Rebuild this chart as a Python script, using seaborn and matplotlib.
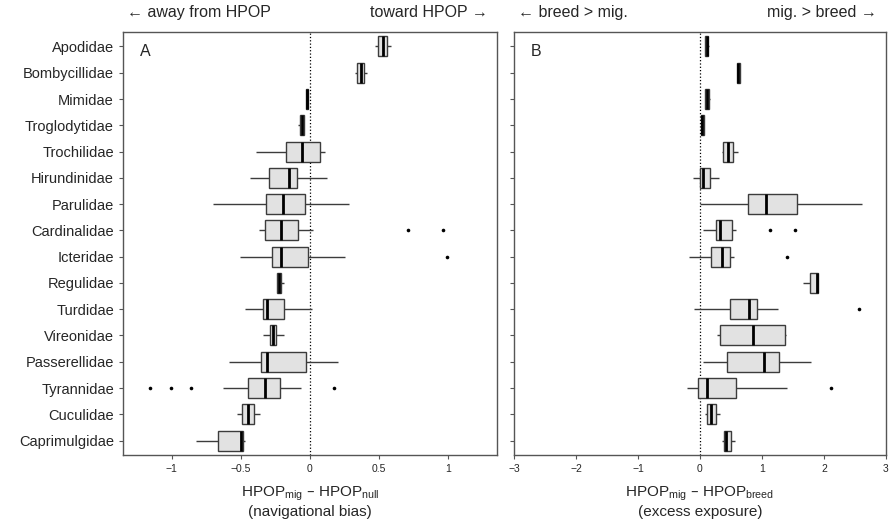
import numpy as np
import pandas as pd
import matplotlib
matplotlib.use("Agg")
import matplotlib.pyplot as plt
import seaborn as sns

# families, top to bottom
families = ["Apodidae", "Bombycillidae", "Mimidae", "Troglodytidae", "Trochilidae",
            "Hirundinidae", "Parulidae", "Cardinalidae", "Icteridae", "Regulidae",
            "Turdidae", "Vireonidae", "Passerellidae", "Tyrannidae", "Cuculidae",
            "Caprimulgidae"]

# panel A: navigational bias (whisker low, q1, median, q3, whisker high)
a_lo = [0.470, 0.324, -0.032, -0.085, -0.388, -0.437, -0.700, -0.368, -0.507, -0.237,
        -0.473, -0.339, -0.583, -0.627, -0.529, -0.827]
a_q1 = [0.495, 0.339, -0.032, -0.071, -0.173, -0.295, -0.317, -0.327, -0.273, -0.237,
        -0.339, -0.290, -0.356, -0.451, -0.488, -0.668]
a_med = [0.527, 0.368, -0.024, -0.058, -0.061, -0.151, -0.195, -0.207, -0.210, -0.224,
         -0.312, -0.271, -0.312, -0.322, -0.446, -0.500]
a_q3 = [0.559, 0.390, -0.017, -0.046, 0.071, -0.095, -0.034, -0.085, -0.012, -0.210,
        -0.188, -0.244, -0.027, -0.217, -0.402, -0.485]
a_hi = [0.588, 0.412, -0.017, -0.041, 0.112, 0.120, 0.283, 0.024, 0.254, -0.188,
        0.017, -0.188, 0.205, -0.068, -0.361, -0.473]
a_out_fam = ["Cardinalidae", "Cardinalidae", "Icteridae", "Tyrannidae", "Tyrannidae",
             "Tyrannidae", "Tyrannidae"]
a_out_val = [0.710, 0.961, 0.993, -1.154, -1.007, -0.861, 0.171]

# panel B: excess exposure
b_lo = [0.075, 0.590, 0.080, 0.020, 0.355, -0.113, 0.000, 0.054, -0.183, 1.663,
        -0.102, 0.280, 0.048, -0.205, 0.075, 0.355]
b_q1 = [0.086, 0.597, 0.086, 0.022, 0.371, -0.005, 0.770, 0.253, 0.172, 1.776,
        0.479, 0.323, 0.436, -0.032, 0.118, 0.388]
b_med = [0.108, 0.620, 0.110, 0.040, 0.457, 0.048, 1.060, 0.328, 0.350, 1.884,
         0.786, 0.861, 1.033, 0.108, 0.178, 0.420]
b_q3 = [0.135, 0.640, 0.145, 0.059, 0.533, 0.161, 1.566, 0.522, 0.490, 1.900,
        0.926, 1.367, 1.276, 0.587, 0.258, 0.501]
b_hi = [0.140, 0.650, 0.155, 0.060, 0.608, 0.307, 2.605, 0.581, 0.554, 1.900,
        1.259, 1.394, 1.792, 1.410, 0.323, 0.571]
b_out_fam = ["Cardinalidae", "Cardinalidae", "Icteridae", "Turdidae", "Tyrannidae"]
b_out_val = [1.125, 1.534, 1.399, 2.567, 2.110]


def long_table(lo, q1, med, q3, hi):
    rows = []
    for i, fam in enumerate(families):
        for v in (lo[i], q1[i], med[i], q3[i], hi[i]):
            rows.append((fam, v))
    return pd.DataFrame(rows, columns=["family", "value"])


dfa = long_table(a_lo, a_q1, a_med, a_q3, a_hi)
dfb = long_table(b_lo, b_q1, b_med, b_q3, b_hi)
outa = pd.DataFrame({"family": a_out_fam, "value": a_out_val})
outb = pd.DataFrame({"family": b_out_fam, "value": b_out_val})

sns.set_style("ticks")
plt.rcParams["font.family"] = ["Liberation Sans", "DejaVu Sans"]
plt.rcParams["mathtext.default"] = "regular"

fig = plt.figure(figsize=(8.9, 5.23), dpi=100)
axA = fig.add_axes([0.1382, 0.130, 0.4202, 0.8088])
axB = fig.add_axes([0.5775, 0.130, 0.4180, 0.8088])

box_kw = dict(x="value", y="family", order=families, orient="h", whis=(0, 100),
              width=0.76, color="#e2e2e2", linecolor="#3c3c3c", linewidth=1,
              showcaps=False, fliersize=0,
              medianprops=dict(color="black", linewidth=2))

for ax, df, out, lim, ticks, ticklabs, xlab, letter, left_txt, right_txt in [
    (axA, dfa, outa, (-1.352, 1.352), [-1, -0.5, 0, 0.5, 1],
     ["\u22121", "\u22120.5", "0", "0.5", "1"],
     "HPOP$_{mig}$ \u2013 HPOP$_{null}$\n(navigational bias)", "A",
     "\u2190 away from HPOP", "toward HPOP \u2192"),
    (axB, dfb, outb, (-3, 3), [-3, -2, -1, 0, 1, 2, 3],
     ["\u22123", "\u22122", "\u22121", "0", "1", "2", "3"],
     "HPOP$_{mig}$ \u2013 HPOP$_{breed}$\n(excess exposure)", "B",
     "\u2190 breed > mig.", "mig. > breed \u2192"),
]:
    ax.axvline(0, color="black", linestyle=":", linewidth=0.9, zorder=0)
    sns.boxplot(data=df, ax=ax, **box_kw)
    sns.stripplot(data=out, x="value", y="family", order=families, orient="h",
                  jitter=False, size=2.6, color="black", ax=ax)
    ax.set_xlim(*lim)
    ax.set_ylim(15.55, -0.55)
    ax.set_xticks(ticks)
    ax.set_xticklabels(ticklabs, fontsize=7.5)
    ax.set_xlabel(xlab, fontsize=11, labelpad=8, linespacing=1.1)
    ax.set_ylabel("")
    for s in ax.spines.values():
        s.set_visible(True)
        s.set_color("#555555")
        s.set_linewidth(1)
    ax.tick_params(axis="both", length=3, width=0.8, color="#555555")
    ax.text(0.06, 0.955, letter, transform=ax.transAxes, fontsize=11.5,
            ha="center", va="center")
    ax.text(0.01, 1.045, left_txt, transform=ax.transAxes, fontsize=11.5,
            ha="left", va="center")
    ax.text(0.975, 1.045, right_txt, transform=ax.transAxes, fontsize=11.5,
            ha="right", va="center")

axA.tick_params(axis="y", labelsize=10.5)
axB.set_yticklabels([])

fig.savefig("out.png", dpi=100)
